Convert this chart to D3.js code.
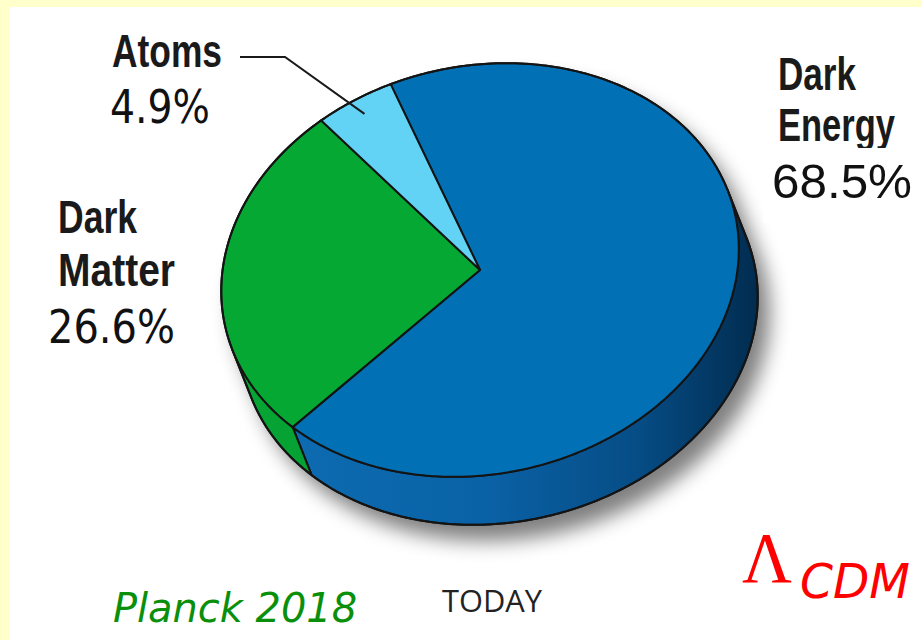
<!DOCTYPE html>
<html>
<head>
<meta charset="utf-8">
<script src="https://cdn.jsdelivr.net/npm/d3@7"></script>
<style>
  html, body { margin: 0; padding: 0; background: #ffffff; }
  svg { display: block; }
</style>
</head>
<body>
<svg id="chart" width="922" height="640"></svg>
<script>
// Energy budget of the universe today (Planck 2018, ΛCDM)
const categories = ["Dark Energy", "Dark Matter", "Atoms"];
const shares = [68.5, 26.6, 4.9];
const nameLines = [["Dark", "Energy"], ["Dark", "Matter"], ["Atoms"]];

// Styling
const topColor = { "Dark Energy": "#0270b5", "Dark Matter": "#05a833", "Atoms": "#62d3f5" };
const sideStops = {
  "Dark Energy": [["0", "#0e6db3"], ["0.45", "#0a62a6"], ["0.75", "#064d86"], ["1", "#012a4c"]],
  "Dark Matter": [["0", "#06a534"], ["1", "#03802a"]],
  "Atoms": [["0", "#58c6ea"], ["1", "#2f8fb5"]]
};
const edge = "#141414";

const svg = d3.select("#chart");
const W = 922, H = 640;
const defs = svg.append("defs");

// page frame: pale yellow margin, white sheet
svg.append("rect").attr("width", W).attr("height", H).attr("fill", "#ffffcc");
svg.append("rect").attr("x", 10).attr("y", 7).attr("width", W - 10).attr("height", H - 7).attr("fill", "#ffffff");

// tilted disc geometry
const cx = 480, cy = 270, ra = 261, rb = 204;
const phi = -12.1 * Math.PI / 180;
const depth = [19, 48];
const cp = Math.cos(phi), sp = Math.sin(phi);

function pt(t, r = 1, dz = 0) {
  const lx = ra * r * Math.cos(t), ly = rb * r * Math.sin(t);
  return [cx + lx * cp - ly * sp + dz * depth[0], cy + lx * sp + ly * cp + dz * depth[1]];
}
function arcPts(t1, t2, dz) {
  const n = Math.max(2, Math.ceil(Math.abs(t2 - t1) / (Math.PI / 240)));
  return d3.range(n + 1).map(i => pt(t1 + (t2 - t1) * i / n, 1, dz));
}

// silhouette tangents: where the rim tangent is parallel to the extrusion
const dlx = depth[0] * cp + depth[1] * sp;
const dly = -depth[0] * sp + depth[1] * cp;
const vs = Math.atan(-(dlx * rb) / (dly * ra));
const ve = vs + Math.PI;

// pie angles -> rim parameter
const pie = d3.pie().sort(null).value(d => d)(shares);
const t0 = 259.3 * Math.PI / 180;
const tScale = d3.scaleLinear().domain([0, 2 * Math.PI]).range([t0, t0 + 2 * Math.PI]);

const line = d3.line();

// drop shadow
const blur = defs.append("filter").attr("id", "soft").attr("x", "-20%").attr("y", "-20%").attr("width", "140%").attr("height", "140%");
blur.append("feGaussianBlur").attr("stdDeviation", 10);
const outline = [...arcPts(vs, ve, 1), ...arcPts(ve, vs + 2 * Math.PI, 0)];
svg.append("path")
  .attr("d", line(outline) + "Z")
  .attr("transform", "translate(12,16)")
  .attr("fill", "#000").attr("opacity", 0.5)
  .attr("filter", "url(#soft)");

// side wall pieces
const gSide = svg.append("g");
pie.forEach((p, i) => {
  const name = categories[i];
  const gid = "side" + i;
  const grad = defs.append("linearGradient").attr("id", gid)
    .attr("gradientUnits", "userSpaceOnUse")
    .attr("x1", 250).attr("y1", 0).attr("x2", 765).attr("y2", 0);
  sideStops[name].forEach(s => grad.append("stop").attr("offset", s[0]).attr("stop-color", s[1]));
  const t1 = tScale(p.startAngle), t2 = tScale(p.endAngle);
  for (let k = -2; k <= 2; k++) {
    const lo = Math.max(t1 + 2 * Math.PI * k, vs);
    const hi = Math.min(t2 + 2 * Math.PI * k, ve);
    if (hi > lo) {
      gSide.append("path")
        .attr("d", line([...arcPts(lo, hi, 0), ...arcPts(hi, lo, 1)]) + "Z")
        .attr("fill", `url(#${gid})`)
        .attr("stroke", edge).attr("stroke-width", 2).attr("stroke-linejoin", "round");
    }
  }
});

// top face slices
const gTop = svg.append("g");
pie.forEach((p, i) => {
  const t1 = tScale(p.startAngle), t2 = tScale(p.endAngle);
  gTop.append("path")
    .attr("d", line([[cx, cy], ...arcPts(t1, t2, 0)]) + "Z")
    .attr("fill", topColor[categories[i]])
    .attr("stroke", edge).attr("stroke-width", 2).attr("stroke-linejoin", "round");
});

// outer rim
svg.append("path").attr("d", line(outline) + "Z")
  .attr("fill", "none").attr("stroke", edge).attr("stroke-width", 2);

// labels
const fmt = v => d3.format(".1f")(v) + "%";
const boldFont = "'Liberation Sans Narrow', 'Liberation Sans', Arial, sans-serif";

function txt(s, x, y, opts) {
  const t = svg.append("text").attr("x", x).attr("y", y).text(s)
    .attr("font-family", opts.family).attr("font-size", opts.size)
    .attr("fill", opts.fill || "#1a1a1a");
  if (opts.weight) t.attr("font-weight", opts.weight);
  if (opts.style) t.attr("font-style", opts.style);
  if (opts.len) t.attr("textLength", opts.len).attr("lengthAdjust", "spacingAndGlyphs");
  return t;
}
const nameStyle = { family: boldFont, size: 46, weight: "bold" };

// Atoms
txt(nameLines[2][0], 112, 67, { ...nameStyle, len: 110 });
txt(fmt(shares[2]), 110, 123, { family: "'DejaVu Sans', sans-serif", size: 46, len: 100, fill: "#111" });
const atomArc = pie[2];
const tip = pt(tScale((atomArc.startAngle + atomArc.endAngle) / 2), 0.92, 0);
svg.append("path")
  .attr("d", line([[240, 57], [285, 57], tip]))
  .attr("fill", "none").attr("stroke", "#1a1a1a").attr("stroke-width", 2);

// Dark Matter
txt(nameLines[1][0], 58, 233, { ...nameStyle, len: 79 });
txt(nameLines[1][1], 58, 286, { ...nameStyle, len: 117 });
txt(fmt(shares[1]), 48, 343, { family: "'DejaVu Sans', sans-serif", size: 46, len: 127, fill: "#111" });

// Dark Energy (the value panel overlaps the descenders of the name)
txt(nameLines[0][0], 778, 90, { ...nameStyle, len: 78 });
txt(nameLines[0][1], 778, 141, { ...nameStyle, len: 117 });
svg.append("rect").attr("x", 763).attr("y", 148).attr("width", W - 763).attr("height", 75).attr("fill", "#ffffff");
txt(fmt(shares[0]), 772, 198, { family: "'Liberation Sans', Arial, sans-serif", size: 49, len: 140, fill: "#111" });

// captions
txt("TODAY", 442, 612, { family: "'Open Sans', 'Liberation Sans', sans-serif", size: 31, len: 100, fill: "#222" });
txt("Planck 2018", 113, 622, { family: "'DejaVu Sans', sans-serif", size: 40, style: "italic", len: 244, fill: "#0a8f0a" });
txt("\u039B", 742, 582, { family: "'Liberation Serif', 'DejaVu Serif', serif", size: 72, len: 50, fill: "#ff0000" });
txt("CDM", 800, 598, { family: "'DejaVu Sans', sans-serif", size: 48, style: "italic", len: 110, fill: "#ff0000" });
</script>
</body>
</html>
